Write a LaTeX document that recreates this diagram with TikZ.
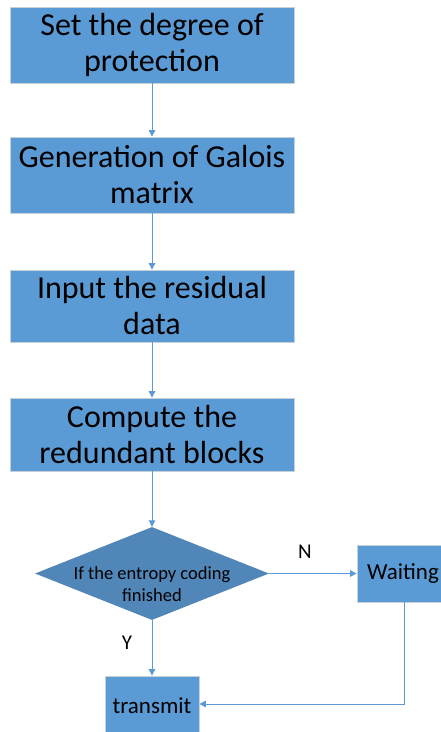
\documentclass[tikz,border=0pt]{standalone}
\usepackage{fontspec}
\setmainfont{Carlito}
\usetikzlibrary{shapes.geometric,arrows.meta}
\definecolor{boxblue}{RGB}{91,155,213}
\definecolor{darkblue}{RGB}{80,134,184}
\definecolor{edgegray}{RGB}{200,208,216}
\begin{document}
\begin{tikzpicture}[
        x=1pt, y=-1pt,
        stepbox/.style={
            draw=edgegray,
            fill=boxblue,
            line width=0.8pt,
            minimum width=284pt,
            minimum height=76pt,
            align=center,
            inner sep=2pt,
            font=\fontsize{32}{36}\selectfont
        },
        smallbox/.style={
            draw=edgegray,
            fill=boxblue,
            line width=0.8pt,
            align=center,
            inner sep=2pt,
            font=\fontsize{23}{26}\selectfont
        },
        decision/.style={
            diamond,
            fill=darkblue,
            minimum width=234pt,
            minimum height=93pt,
            inner sep=0pt
        },
        decision text/.style={align=center, inner sep=0pt, yshift=-11pt, font=\fontsize{18.5}{22}\selectfont},
        line/.style={draw=boxblue, line width=0.9pt, -{Triangle[length=6.5pt,width=6.5pt]}},
        mark label/.style={font=\fontsize{21}{24}\selectfont}
    ]
        \useasboundingbox (0,0) rectangle (440,732);

        \node[stepbox] (degree) at (152,45) {Set the degree of\\protection};
        \node[stepbox] (galois) at (152,175) {Generation of Galois\\matrix};
        \node[stepbox, minimum height=72pt] (residual) at (152,306) {Input the residual\\data};
        \node[stepbox, minimum height=73pt] (redundant) at (152,434.5) {Compute the\\redundant blocks};

        \node[decision, label={[decision text]center:If the entropy coding\\finished}] (entropy) at (152,573.5) {};

        \node[smallbox, minimum width=92pt, minimum height=57pt] (waiting) at (403,573.5) {Waiting};
        \node[smallbox, minimum width=94pt, minimum height=60pt] (transmit) at (152,706) {transmit};

        \draw[line] (degree.south) -- (galois.north);
        \draw[line] (galois.south) -- (residual.north);
        \draw[line] (residual.south) -- (redundant.north);
        \draw[line] (redundant.south) -- (entropy.north);

        \draw[line] (entropy.east) -- (waiting.west);
        \draw[line] (entropy.south) -- (transmit.north);

        \coordinate (backline) at (404,704);
        \draw[line] (waiting.south -| backline) -- (backline) -- (transmit.east |- backline);

        \node[mark label] (nlabel) at (305,552) {N};
        \node[mark label] (ylabel) at (127,643) {Y};
    \end{tikzpicture}
\end{document}
